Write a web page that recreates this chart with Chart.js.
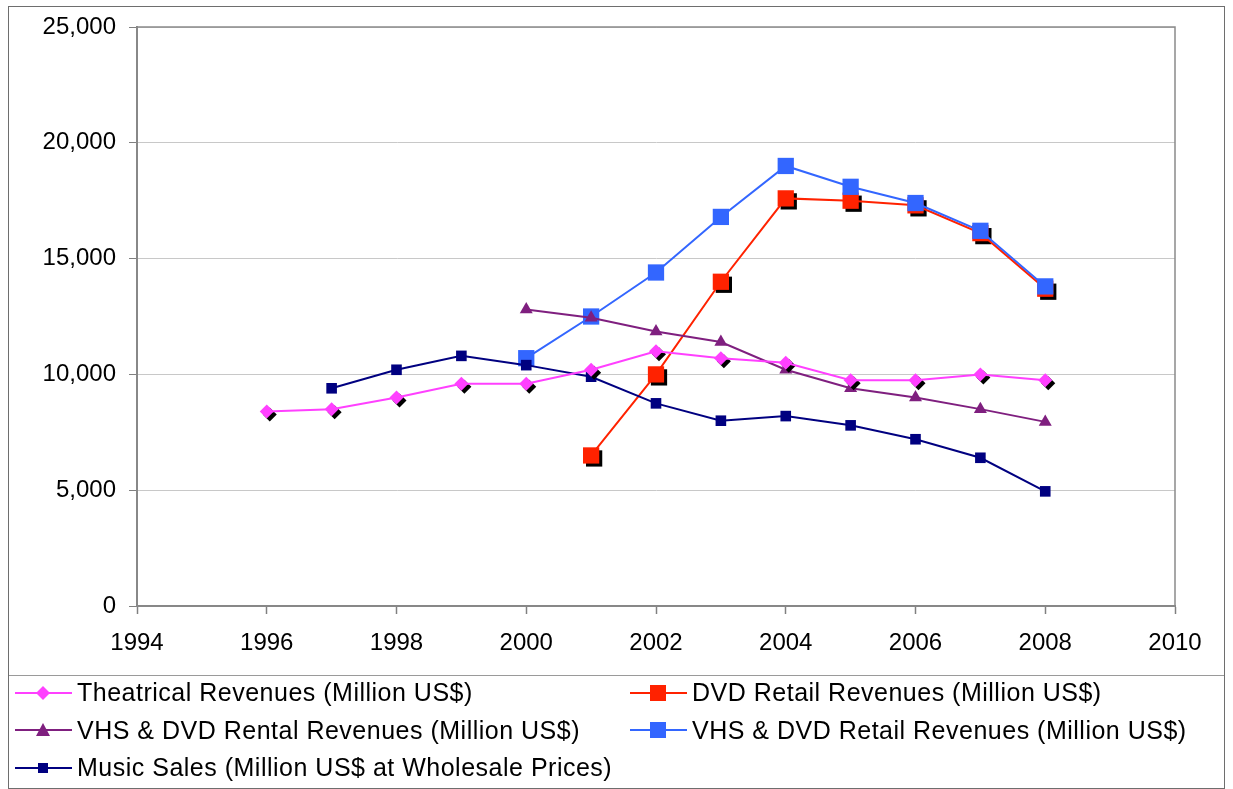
<!DOCTYPE html>
<html>
<head>
<meta charset="utf-8">
<script src="https://cdn.jsdelivr.net/npm/chart.js@4.4.0/dist/chart.umd.min.js"></script>
<style>
html,body{margin:0;background:#fff;}
#frame{position:absolute;left:8px;top:6px;width:1215px;height:781px;border:1px solid #6e6e6e;}
#plot{position:absolute;left:9px;top:7px;width:1215px;height:668px;}
#sep{position:absolute;left:9px;top:675px;width:1215px;height:0;border-top:1px solid #9a9a9a;}
#legend{position:absolute;left:15px;top:674px;display:grid;grid-template-columns:615px auto;
  font-family:"Liberation Sans",Arial,sans-serif;font-size:25px;letter-spacing:0.5px;color:#000;}
.item{height:37.5px;display:flex;align-items:center;white-space:nowrap;}
.item svg{margin-right:5px;flex:none;}
</style>
</head>
<body>
<div id="frame"></div>
<div id="plot"><canvas id="c"></canvas></div>
<div id="sep"></div>
<div id="legend"></div>
<script>
// Data
const years = [1996,1997,1998,1999,2000,2001,2002,2003,2004,2005,2006,2007,2008];
const theatrical   = [8400,8500,9000,9600,9600,10200,11000,10700,10500,9750,9750,10000,9750];
const dvdRetail    = [null,null,null,null,null,6500,10000,14000,17600,17500,17300,16100,13700];
const rental       = [null,null,null,null,12800,12450,11850,11400,10200,9400,9000,8500,7950];
const vhsDvdRetail = [null,null,null,null,10700,12500,14400,16800,19000,18100,17400,16200,13800];
const music        = [null,9400,10200,10800,10400,9900,8750,8000,8200,7800,7200,6400,4950];
const xTicks = [1994,1996,1998,2000,2002,2004,2006,2008,2010];
const yTicks = [0,5000,10000,15000,20000,25000];

const series = [
  {label:'Theatrical Revenues (Million US$)', values:theatrical, color:'#ff40ff', shape:'rectRot', r:7, order:1, shadow:true},
  {label:'DVD Retail Revenues (Million US$)', values:dvdRetail, color:'#ff2200', shape:'rect', r:11.5, order:5, shadow:true},
  {label:'VHS & DVD Rental Revenues (Million US$)', values:rental, color:'#7f1f7f', shape:'triangle', r:7.5, order:3},
  {label:'VHS & DVD Retail Revenues (Million US$)', values:vhsDvdRetail, color:'#3366ff', shape:'rect', r:11.5, order:4},
  {label:'Music Sales (Million US$ at Wholesale Prices)', values:music, color:'#000080', shape:'rect', r:7.5, order:2}
];

const pts = vals => years.map((y,i)=>({x:y,y:vals[i]})).filter(p=>p.y!==null);

const datasets = [];
series.forEach(s=>{
  datasets.push({label:s.label, data:pts(s.values), borderColor:s.color, backgroundColor:s.color,
    borderWidth:2, pointStyle:s.shape, pointRadius:s.r, pointBorderWidth:0,
    pointBackgroundColor:s.color, order:s.order});
  if(s.shadow){
    datasets.push({label:'', data:pts(s.values), showLine:false, pointStyle:s.shape, pointRadius:s.r,
      pointBorderWidth:0, pointBackgroundColor:'#000', order:s.order+0.5, shadow:true});
  }
});

// shift shadow markers down-right
const shadowPlugin = {
  id:'shadow',
  beforeDatasetDraw(chart,args){
    if(chart.data.datasets[args.index].shadow){ chart.ctx.save(); chart.ctx.translate(3,3); }
  },
  afterDatasetDraw(chart,args){
    if(chart.data.datasets[args.index].shadow) chart.ctx.restore();
  }
};
const frame = {
  id:'frame',
  beforeDatasetsDraw(chart){
    const {ctx, chartArea:a} = chart;
    ctx.save(); ctx.strokeStyle='#8a8a8a'; ctx.lineWidth=1.5;
    ctx.strokeRect(a.left,a.top,a.right-a.left,a.bottom-a.top); ctx.restore();
  }
};

const font = {family:'"Liberation Sans", Arial, sans-serif', size:24};
new Chart(document.getElementById('c'), {
  type:'line',
  data:{datasets},
  options:{
    responsive:true, maintainAspectRatio:false, animation:false,
    layout:{padding:{top:20,right:49,left:0,bottom:0}},
    plugins:{legend:{display:false}, tooltip:{enabled:false}},
    scales:{
      x:{type:'linear', min:1994, max:2010,
        afterBuildTicks:s=>{s.ticks=xTicks.map(v=>({value:v}));},
        afterFit:s=>{s.height=69; s.paddingLeft=0; s.paddingRight=0;},
        grid:{drawOnChartArea:false, tickLength:8, tickColor:'#808080', tickWidth:1.5},
        border:{color:'#808080', width:2},
        ticks:{font, color:'#000', padding:15, maxRotation:0, callback:v=>String(v)}},
      y:{min:0, max:25000,
        afterBuildTicks:s=>{s.ticks=yTicks.map(v=>({value:v}));},
        afterFit:s=>{s.width=128; s.paddingTop=0; s.paddingBottom=0;},
        grid:{color:'#c8c8c8', lineWidth:1, tickLength:8, tickColor:'#808080'},
        border:{color:'#808080', width:2},
        ticks:{font, color:'#000', padding:13, callback:v=>v.toLocaleString('en-US')}}
    }
  },
  plugins:[shadowPlugin, frame]
});

// legend, two columns
function marker(s){
  const c=s.color;
  let m='';
  if(s.shape==='rectRot') m=`<polygon points="28,3 35,10 28,17 21,10" fill="${c}"/>`;
  else if(s.shape==='triangle') m=`<polygon points="28,3 35,16 21,16" fill="${c}"/>`;
  else { const h = s.r>9?8:5; m=`<rect x="${28-h}" y="${10-h}" width="${2*h}" height="${2*h}" fill="${c}"/>`; }
  return `<svg width="57" height="20"><line x1="0" y1="10" x2="57" y2="10" stroke="${c}" stroke-width="2"/>${m}</svg>`;
}
const legend = document.getElementById('legend');
series.forEach(s=>{
  const el=document.createElement('div'); el.className='item';
  el.innerHTML = marker(s) + `<span>${s.label}</span>`;
  legend.appendChild(el);
});
</script>
</body>
</html>
